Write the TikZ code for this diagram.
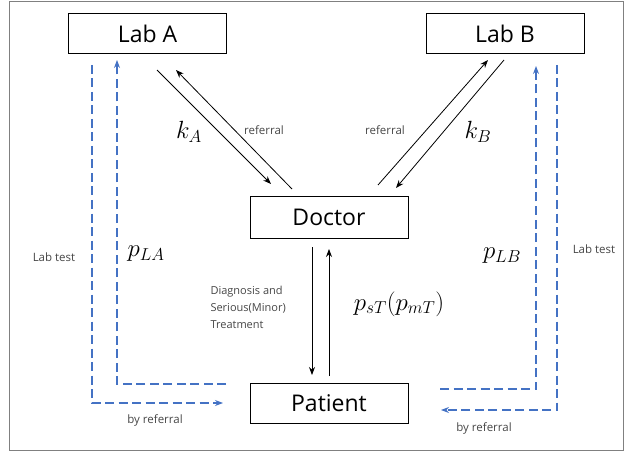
\documentclass[tikz,border=0pt]{standalone}
\usepackage{fontspec}
\setmainfont{Open Sans}
\usetikzlibrary{arrows.meta}
\definecolor{lblue}{RGB}{68,114,196}
\definecolor{lgray}{RGB}{70,70,70}
\begin{document}
\begin{tikzpicture}[x=1pt,y=-1pt,
  box/.style={draw,line width=1pt,minimum height=40pt,minimum width=158pt,inner sep=0pt,font=\fontsize{23}{26}\selectfont},
  arr/.style={line width=0.8pt,-{Stealth[length=8pt,width=6pt]}},
  barr/.style={lblue,line width=1.2pt,dash pattern=on 9pt off 4.5pt},
  btip/.style={-{Stealth[length=8pt,width=6pt]}},
  small/.style={lgray,font=\fontsize{11.5}{14}\selectfont},
  mth/.style={font=\fontsize{23}{27}\selectfont}]
\useasboundingbox (0,0) rectangle (625,452);
\draw[gray,line width=1pt] (9,2) rectangle (623,450);
\node[box] (labA) at (147.5,34) {Lab A};
\node[box] (labB) at (505,34) {Lab B};
\node[box,minimum height=41pt] (doc) at (329,217.5) {Doctor};
\node[box] (pat) at (329,403) {Patient};
% Lab A <-> Doctor
\coordinate (a1s) at (157,70); \coordinate (a1e) at (271,184);
\coordinate (a2s) at (292,189); \coordinate (a2e) at (176,70);
\draw[arr] (a1s) -- (a1e);
\draw[arr] (a2s) -- (a2e);
\node[mth] (kA) at (189,132) {$k_A$};
\node[small] (refA) at (264,130) {referral};
% Lab B <-> Doctor
\coordinate (b1s) at (378,185); \coordinate (b1e) at (488,60);
\coordinate (b2s) at (504,60); \coordinate (b2e) at (396,188);
\draw[arr] (b1s) -- (b1e);
\draw[arr] (b2s) -- (b2e);
\node[mth] (kB) at (478,132) {$k_B$};
\node[small] (refB) at (385,130) {referral};
% Doctor <-> Patient
\draw[arr] (312,247) -- (312,375);
\draw[arr] (329,376) -- (329,249);
\node[mth] (pst) at (399,304) {$p_{sT}(p_{mT})$};
\node[small,align=left,anchor=west,font=\fontsize{11}{17}\selectfont] (diag) at (207,307) {Diagnosis and\\Serious(Minor)\\Treatment};
% left dashed
\draw[barr,btip] (92,65) -- (92,403) -- (223,403);
\draw[barr,btip] (226,384) -- (117,384) -- (117,60);
\node[small] (ltA) at (54,257) {Lab test};
\node[mth] (pLA) at (146,254) {$p_{LA}$};
\node[small] (brA) at (155,420) {by referral};
% right dashed
\draw[barr,btip] (440,389) -- (536,389) -- (536,66);
\draw[barr,btip] (557,65) -- (557,410) -- (441,410);
\node[small] (ltB) at (594,249) {Lab test};
\node[mth] (pLB) at (502,256) {$p_{LB}$};
\node[small] (brB) at (484,428) {by referral};
\end{tikzpicture}
\end{document}
